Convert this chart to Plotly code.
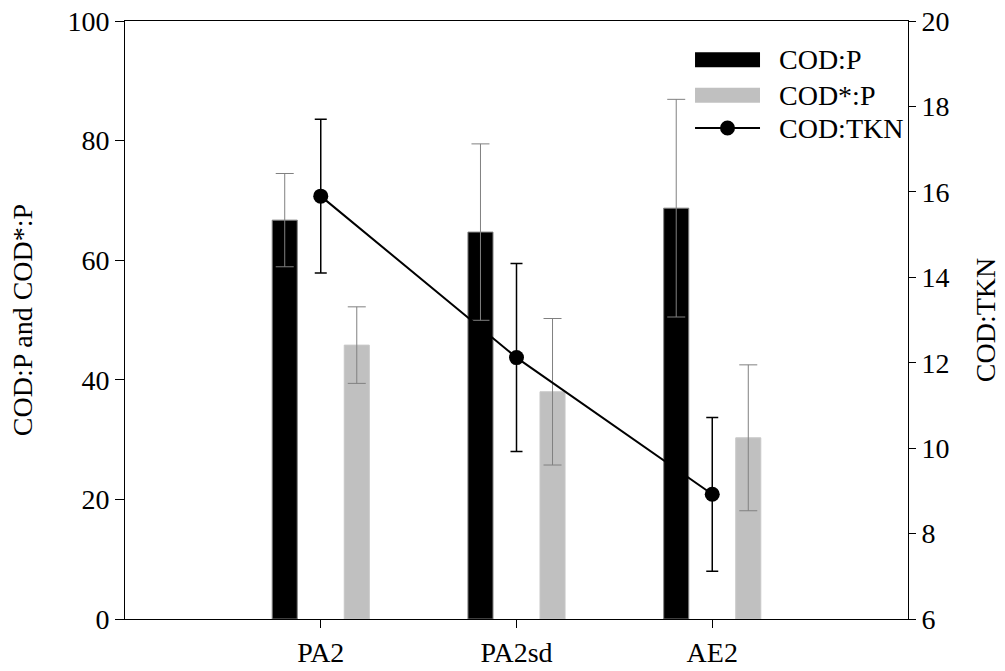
import plotly.graph_objects as go

# Treatment categories along the x axis
categories = ["PA2", "PA2sd", "AE2"]

# COD:P ratio (left axis) with standard deviations
cod_p = [66.7, 64.7, 68.7]
cod_p_err = [7.8, 14.75, 18.2]

# COD*:P ratio (left axis) with standard deviations
cod_star_p = [45.8, 38.0, 30.3]
cod_star_p_err = [6.4, 12.25, 12.2]

# COD:TKN ratio (right axis) with standard deviations
cod_tkn = [15.9, 12.12, 8.92]
cod_tkn_err = [1.8, 2.2, 1.8]

y_left_ticks = [0, 20, 40, 60, 80, 100]
y_right_ticks = [6, 8, 10, 12, 14, 16, 18, 20]

FONT = dict(family="Liberation Serif, Times New Roman, serif", size=28, color="black")

x_pos = [i + 1 for i in range(len(categories))]
BAR_W = 0.128
BAR_SHIFT = 0.184

fig = go.Figure()

fig.add_trace(go.Bar(
    name="COD:P", x=x_pos, y=cod_p,
    width=BAR_W, offset=-BAR_SHIFT - BAR_W / 2,
    marker=dict(color="black", line=dict(color="#808080", width=1)),
    error_y=dict(type="data", array=cod_p_err, color="#808080", thickness=1, width=9),
    showlegend=False,
))
fig.add_trace(go.Bar(
    name="COD*:P", x=x_pos, y=cod_star_p,
    width=BAR_W, offset=BAR_SHIFT - BAR_W / 2,
    marker=dict(color="#c0c0c0", line=dict(color="#c8c8c8", width=1)),
    error_y=dict(type="data", array=cod_star_p_err, color="#808080", thickness=1, width=9),
    showlegend=False,
))
fig.add_trace(go.Scatter(
    name="COD:TKN", x=x_pos, y=cod_tkn, yaxis="y2",
    mode="lines+markers",
    line=dict(color="black", width=2),
    marker=dict(color="black", size=15),
    error_y=dict(type="data", array=cod_tkn_err, color="black", thickness=1.5, width=6),
    showlegend=False,
))

# Legend key, drawn in the upper right corner of the plotting area
LEG_X0, LEG_X1 = 0.728, 0.811
LEG_TEXT_X = 0.833
legend_rows = [
    ("COD:P", "bar", "black", 0.935),
    ("COD*:P", "bar", "#c0c0c0", 0.876),
    ("COD:TKN", "line", "black", 0.821),
]
shapes = []
annotations = []
for label, kind, color, yc in legend_rows:
    if kind == "bar":
        shapes.append(dict(type="rect", xref="paper", yref="paper",
                           x0=LEG_X0, x1=LEG_X1, ysizemode="pixel", yanchor=yc,
                           y0=-7.5, y1=7.5, fillcolor=color,
                           line=dict(width=0)))
    else:
        shapes.append(dict(type="line", xref="paper", yref="paper",
                           x0=LEG_X0, x1=LEG_X1, y0=yc, y1=yc,
                           line=dict(color=color, width=2)))
        shapes.append(dict(type="circle", xref="paper", yref="paper",
                           xsizemode="pixel", ysizemode="pixel",
                           xanchor=(LEG_X0 + LEG_X1) / 2, yanchor=yc,
                           x0=-7.5, x1=7.5, y0=-7.5, y1=7.5,
                           fillcolor=color, line=dict(width=0)))
    annotations.append(dict(text=label, xref="paper", yref="paper",
                            x=LEG_TEXT_X, y=yc, xanchor="left", yanchor="middle",
                            showarrow=False, font=FONT))

fig.update_layout(
    width=1005, height=671,
    margin=dict(l=125, r=97, t=21, b=52),
    paper_bgcolor="white", plot_bgcolor="white",
    font=FONT,
    barmode="overlay",
    showlegend=False,
    shapes=shapes,
    annotations=annotations,
    xaxis=dict(
        range=[0, 4], tickvals=x_pos, ticktext=categories,
        ticks="outside", ticklen=8, tickcolor="black",
        showline=True, linecolor="black", linewidth=1, mirror=True,
        showgrid=False, zeroline=False, tickfont=FONT, automargin=False,
    ),
    yaxis=dict(
        range=[0, 100], tickvals=y_left_ticks,
        ticks="outside", ticklen=9, tickcolor="black",
        showline=True, linecolor="black", linewidth=1,
        showgrid=False, zeroline=False, tickfont=FONT, automargin=False,
        title=dict(text="COD:P and COD*:P", font=FONT, standoff=26),
    ),
    yaxis2=dict(
        range=[6, 20], tickvals=y_right_ticks,
        overlaying="y", side="right",
        ticks="outside", ticklen=7, tickcolor="black",
        showline=True, linecolor="black", linewidth=1,
        showgrid=False, zeroline=False, tickfont=FONT, automargin=False,
        title=dict(text="COD:TKN", font=FONT, standoff=26),
    ),
)

fig.write_html("out.html")
